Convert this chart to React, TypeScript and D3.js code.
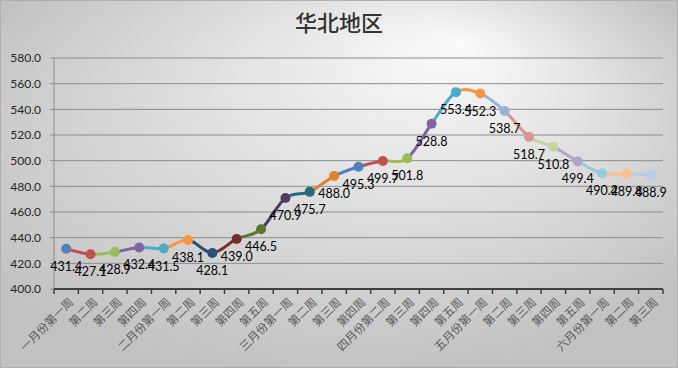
import React, { useEffect } from "react"
import * as d3 from "d3"

const chartTitle = "华北地区"

const categories = [
    "一月份第一周", "第二周", "第三周", "第四周",
    "二月份第一周", "第二周", "第三周", "第四周", "第五周",
    "三月份第一周", "第二周", "第三周", "第四周",
    "四月份第二周", "第三周", "第四周", "第五周",
    "五月份第一周", "第二周", "第三周", "第四周", "第五周",
    "六月份第一周", "第二周", "第三周",
]

const values = [
    431.4, 427.1, 428.9, 432.4, 431.5, 438.1, 428.1, 439.0, 446.5,
    470.9, 475.7, 488.0, 495.3, 499.7, 501.8, 528.8, 553.4, 552.3,
    538.7, 518.7, 510.8, 499.4, 490.2, 489.8, 488.9,
]

// excel "vary colors by point" palette
const pointColors = [
    "#4f81bd", "#c0504d", "#9bbb59", "#8064a2", "#4bacc6", "#f79646",
    "#2c4d75", "#772c2a", "#5f7530", "#4d3b62", "#276a7c", "#e2812f",
    "#4f81bd", "#c0504d", "#9bbb59", "#8064a2", "#4bacc6", "#f79646",
    "#95b3d7", "#d99694", "#c3d69b", "#b3a2c7", "#93cddd", "#fac090",
    "#b9cde5",
]

const yTicks = [400, 420, 440, 460, 480, 500, 520, 540, 560, 580]

const W = 678
const H = 368
const plot = { left: 54, right: 663, top: 58, bottom: 289 }

const App = () => {
    useEffect(() => {
        document.body.style.margin = "0"
    }, [])

    const x = d3
        .scaleBand<number>()
        .domain(d3.range(values.length))
        .range([plot.left, plot.right])
    const y = d3
        .scaleLinear()
        .domain([400, 580])
        .range([plot.bottom, plot.top])

    const cx = (i: number) => (x(i) as number) + x.bandwidth() / 2
    const pts: [number, number][] = values.map((v, i) => [cx(i), y(v)])
    const line = d3.line().curve(d3.curveCardinal.tension(0))
    const pathD = line(pts) || ""

    const boundaries = d3.range(values.length + 1).map((i) =>
        i < values.length ? (x(i) as number) : plot.right,
    )

    return (
        <svg width={W} height={H} style={{ display: "block" }}>
            <defs>
                <radialGradient
                    id="bg"
                    cx="0.5"
                    cy="0.4"
                    r="0.62"
                    fx="0.68"
                    fy="0.12"
                >
                    <stop offset="0" stopColor="#fbfbfb" />
                    <stop offset="1" stopColor="#c2c2c2" />
                </radialGradient>
                {pts.slice(1).map((p, k) => (
                    <clipPath id={"seg" + (k + 1)} key={k}>
                        <rect
                            x={pts[k][0]}
                            y={0}
                            width={p[0] - pts[k][0]}
                            height={H}
                        />
                    </clipPath>
                ))}
            </defs>
            <rect
                x={0.5}
                y={0.5}
                width={W - 1}
                height={H - 1}
                fill="url(#bg)"
                stroke="#b0b0b0"
            />
            <text
                x={W / 2}
                y={31}
                textAnchor="middle"
                fontFamily="'Noto Sans CJK SC', sans-serif"
                fontSize={22}
                fontWeight={500}
                fill="#333"
            >
                {chartTitle}
            </text>

            {yTicks.map((t) => (
                <g key={t}>
                    {t > 400 && (
                        <line
                            x1={plot.left}
                            x2={plot.right}
                            y1={y(t)}
                            y2={y(t)}
                            stroke="#8c8c8c"
                            strokeWidth={1}
                        />
                    )}
                    <line
                        x1={plot.left - 4}
                        x2={plot.left}
                        y1={y(t)}
                        y2={y(t)}
                        stroke="#8c8c8c"
                    />
                    <text
                        x={41}
                        y={y(t)}
                        dy="0.35em"
                        textAnchor="end"
                        fontFamily="Lato, sans-serif"
                        fontSize={12}
                        fill="#262626"
                    >
                        {d3.format(".1f")(t)}
                    </text>
                </g>
            ))}
            <line
                x1={plot.left}
                x2={plot.left}
                y1={plot.top}
                y2={plot.bottom}
                stroke="#8c8c8c"
            />
            <line
                x1={plot.left}
                x2={plot.right}
                y1={plot.bottom}
                y2={plot.bottom}
                stroke="#404040"
                strokeWidth={2}
            />
            {boundaries.map((bx, i) => (
                <line
                    key={i}
                    x1={bx}
                    x2={bx}
                    y1={plot.bottom}
                    y2={plot.bottom + 5}
                    stroke="#404040"
                    strokeWidth={1.5}
                />
            ))}
            {categories.map((c, i) => (
                <text
                    key={i}
                    transform={`translate(${cx(i) + 5},${plot.bottom + 11}) rotate(-45)`}
                    dy="0.35em"
                    textAnchor="end"
                    fontFamily="'Noto Sans CJK SC', sans-serif"
                    fontSize={11.5}
                    fill="#595959"
                >
                    {c}
                </text>
            ))}

            {pts.slice(1).map((p, k) => (
                <path
                    key={k}
                    d={pathD}
                    fill="none"
                    stroke={pointColors[k + 1]}
                    strokeWidth={3}
                    clipPath={`url(#seg${k + 1})`}
                />
            ))}
            {pts.map((p, i) => (
                <circle
                    key={i}
                    cx={p[0]}
                    cy={p[1]}
                    r={5}
                    fill={pointColors[i]}
                />
            ))}
            {pts.map((p, i) => (
                <text
                    key={i}
                    x={p[0]}
                    y={p[1] + 22}
                    textAnchor="middle"
                    fontFamily="Lato, sans-serif"
                    fontSize={12.5}
                    fill="#000"
                >
                    {d3.format(".1f")(values[i])}
                </text>
            ))}
        </svg>
    )
}

export default App
